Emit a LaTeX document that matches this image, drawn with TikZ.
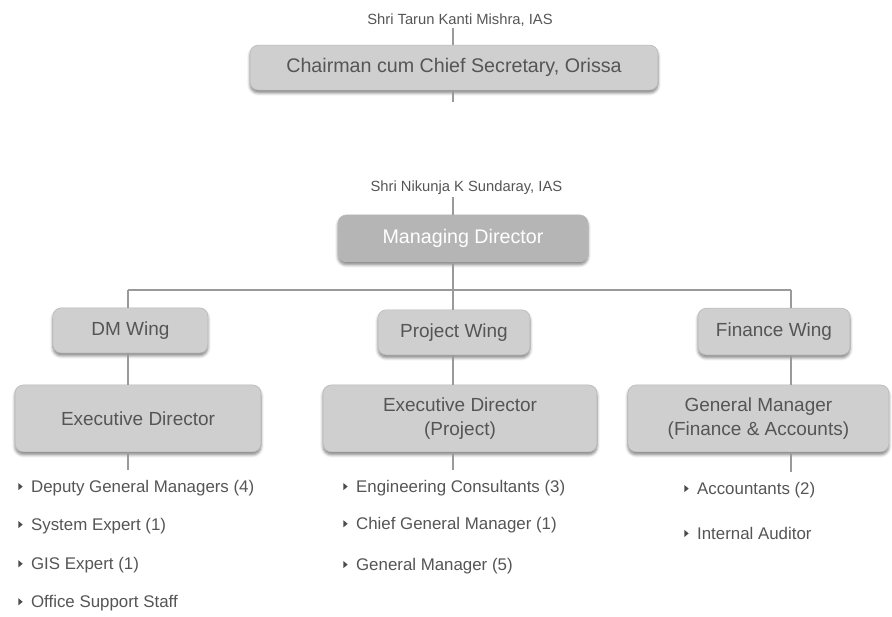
\documentclass[tikz,border=0pt]{standalone}
\usepackage{fontspec}
\setmainfont{Liberation Sans}
\usetikzlibrary{shadows.blur}
\definecolor{boxgray}{HTML}{CFCFCF}
\definecolor{boxline}{HTML}{B8B8B8}
\definecolor{mdgray}{HTML}{B5B5B5}
\definecolor{txtgray}{HTML}{555555}
\definecolor{linegray}{HTML}{9A9A9A}
\newcommand{\itembul}{\tikz[baseline=-1.45mm]\fill[black!70] (0,-0.9mm) -- (0,0.9mm) -- (1.1mm,0) -- cycle;\hspace{6pt}}
\begin{document}
\begin{tikzpicture}[
            >=latex,
            box/.style={draw=boxline, fill=boxgray, rounded corners=6pt, text=txtgray, align=center,
                inner sep=0pt, font=\fontsize{13.5}{17}\selectfont,
                blur shadow={shadow xshift=0pt, shadow yshift=-2pt, shadow blur steps=5, shadow opacity=50}},
            person/.style={text=txtgray, inner sep=1pt, font=\fontsize{10.5}{12}\selectfont},
            link/.style={draw=linegray, line width=0.9pt},
            entry/.style={anchor=west, inner sep=0pt, text=txtgray, font=\fontsize{12}{14}\selectfont}
            ]
            \useasboundingbox (0,0) rectangle (22.3,-15.4);

            % columns of the connectors
            \coordinate (colL) at (3.2,0);
            \coordinate (colM) at (11.325,0);
            \coordinate (colR) at (19.775,0);

            % top
            \node [person] (tarun) at (11.5,-0.5) {Shri Tarun Kanti Mishra, IAS};
            \node [box, minimum width=10.2cm, minimum height=1.125cm, font=\fontsize{14}{17}\selectfont] (chair) at (11.35,-1.69) {Chairman cum Chief Secretary, Orissa};
            \coordinate (chairend) at (11.325,-2.55);

            \node [person] (nikunja) at (11.66,-4.7) {Shri Nikunja K Sundaray, IAS};
            \node [box, fill=mdgray, text=white, minimum width=6.25cm, minimum height=1.175cm, font=\fontsize{14}{17}\selectfont] (md) at (11.575,-5.96) {Managing Director};

            % wings
            \node [box, minimum width=3.875cm, minimum height=1.13cm] (dmwing) at (3.26,-8.26) {DM Wing};
            \node [box, minimum width=3.8cm, minimum height=1.13cm] (projwing) at (11.35,-8.31) {Project Wing};
            \node [box, minimum width=3.8cm, minimum height=1.17cm] (finwing) at (19.35,-8.29) {Finance Wing};

            \node [box, minimum width=6.15cm, minimum height=1.675cm] (dmed) at (3.45,-10.46) {Executive Director};
            \node [box, minimum width=6.85cm, minimum height=1.675cm] (projed) at (11.5,-10.46) {Executive Director\\(Project)};
            \node [box, minimum width=6.525cm, minimum height=1.675cm] (fined) at (18.96,-10.46) {General Manager\\(Finance \& Accounts)};

            \coordinate (barL) at (3.2,-7.25);
            \coordinate (barR) at (19.775,-7.25);
            \coordinate (dmend) at (3.2,-11.75);
            \coordinate (projend) at (11.325,-11.75);
            \coordinate (finend) at (19.775,-11.8);

            % lists
            \node [entry] (dm1) at (0.45,-12.2) {\itembul Deputy General Managers (4)};
            \node [entry] (dm2) at (0.45,-13.15) {\itembul System Expert (1)};
            \node [entry] (dm3) at (0.45,-14.13) {\itembul GIS Expert (1)};
            \node [entry] (dm4) at (0.45,-15.08) {\itembul Office Support Staff};

            \node [entry] (pj1) at (8.575,-12.2) {\itembul Engineering Consultants (3)};
            \node [entry] (pj2) at (8.575,-13.13) {\itembul Chief General Manager (1)};
            \node [entry] (pj3) at (8.575,-14.15) {\itembul General Manager (5)};

            \node [entry] (fn1) at (17.1,-12.25) {\itembul Accountants (2)};
            \node [entry] (fn2) at (17.1,-13.33) {\itembul Internal Auditor};

            % connectors
            \draw [link] (chair.north -| colM) -- (tarun.south -| colM);
            \draw [link] (chair.south -| colM) -- (chairend);
            \draw [link] (md.north -| colM) -- (nikunja.south -| colM);
            \draw [link] (md.south -| colM) -- (barL -| colM);
            \draw [link] (barL) -- (barR);
            \draw [link] (barL) -- (dmwing.north -| colL);
            \draw [link] (barL -| colM) -- (projwing.north -| colM);
            \draw [link] (barR) -- (finwing.north -| colR);
            \draw [link] (dmwing.south -| colL) -- (dmed.north -| colL);
            \draw [link] (projwing.south -| colM) -- (projed.north -| colM);
            \draw [link] (finwing.south -| colR) -- (fined.north -| colR);
            \draw [link] (dmed.south -| colL) -- (dmend);
            \draw [link] (projed.south -| colM) -- (projend);
            \draw [link] (fined.south -| colR) -- (finend);
        \end{tikzpicture}
\end{document}
